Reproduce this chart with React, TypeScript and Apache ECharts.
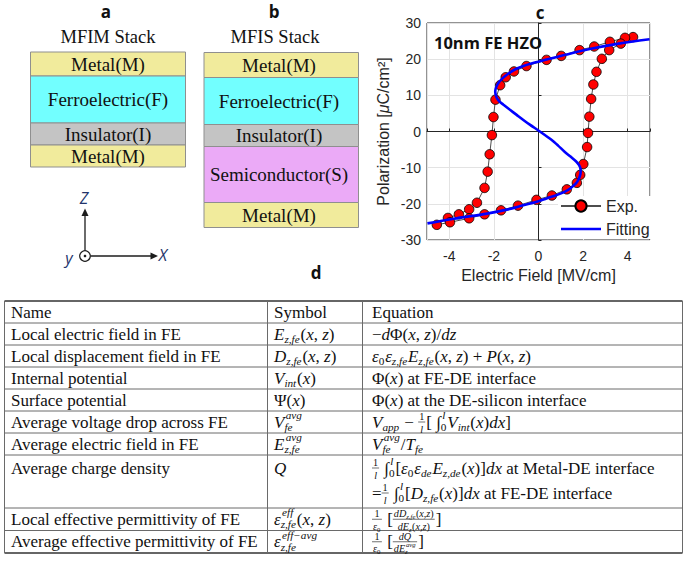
import React, { useEffect, useRef } from 'react';
import * as echarts from 'echarts';

const SANS = '"Liberation Sans", Arial, sans-serif';
const SERIF = '"Liberation Serif", "Times New Roman", serif';
const BOLD = '"Open Sans", Lato, sans-serif';
const INK = '#111111';
const AX = '#262626';

// ---------- Panel c data ----------
const expField = [4.24, 3.88, 3.2, 2.5, 1.84, 1.02, 0.36, -0.54, -1.1, -1.47, -1.72, -1.93, -2.02, -2.09, -2.19, -2.28, -2.42, -2.76, -3.11, -3.57, -4.06, -4.56,
  -3.97, -3.11, -2.42, -1.68, -0.92, -0.09, 0.6, 1.27, 1.72, 1.87, 2.01, 2.18, 2.22, 2.28, 2.36, 2.46, 2.6, 2.84, 3.17, 3.69];
const expPolarization = [26.1, 25.9, 24.8, 23.5, 22.5, 20.9, 19.8, 18.1, 16.6, 15.0, 12.8, 8.8, 4.0, -1.0, -6.3, -11.1, -15.6, -19.7, -21.5, -22.9, -23.9, -25.8,
  -25.1, -24.0, -22.9, -21.8, -20.5, -18.9, -17.7, -16.0, -14.2, -12.0, -9.0, -4.3, -0.4, 4.1, 9.0, 13.0, 16.5, 20.1, 22.5, 24.3];
const fitField = [-4.98, -3.8, -2.31, -1.42, -0.68, 0.0, 0.36, 0.8, 1.17, 1.45, 1.69, 1.8, 1.87, 1.89, 1.88, 1.82, 1.69, 1.45, 1.17, 0.88, 0.58, 0.06,
  -0.39, -0.68, -0.98, -1.28, -1.57, -1.75, -1.87, -1.92, -1.94, -1.9, -1.8, -1.65, -1.42, -1.1, -0.68, -0.2, 0.36, 1.2, 2.3, 3.6, 4.98];
const fitPolarization = [-25.4, -24.1, -22.7, -21.6, -20.4, -19.3, -18.5, -17.6, -16.7, -15.6, -14.3, -13.2, -12.0, -11.1, -10.2, -9.3, -8.3, -7.0, -5.6, -3.9, -2.3, 0.0,
  1.9, 3.2, 4.6, 6.0, 7.4, 8.3, 9.3, 10.2, 11.1, 12.2, 13.4, 14.5, 15.7, 17.0, 18.1, 19.0, 19.9, 21.2, 22.8, 24.3, 25.5];
const seriesNames = ['Exp.', 'Fitting'];

// ---------- Panels a / b ----------
const mfimLayers = ['Metal(M)', 'Ferroelectric(F)', 'Insulator(I)', 'Metal(M)'];
const mfisLayers = ['Metal(M)', 'Ferroelectric(F)', 'Insulator(I)', 'Semiconductor(S)', 'Metal(M)'];

// ---------- Panel d table ----------
type Piece = any[];
const rowNames = ['Name', 'Local electric field in FE', 'Local displacement field in FE', 'Internal potential', 'Surface potential',
  'Average voltage drop across FE', 'Average electric field in FE', 'Average charge density', 'Local effective permittivity of FE',
  'Average effective permittivity of FE'];
const oneOverL: Piece = ['frac', [['r', '1']], [['i', 'l']]];
const oneOverEps: Piece = ['frac', [['r', '1']], [['i', 'ε'], ['ss', '0']]];
const rowSymbols: Piece[][] = [
  [['r', 'Symbol']],
  [['i', 'E'], ['ss', 'z,fe'], ['r', '('], ['i', 'x'], ['r', ', '], ['i', 'z'], ['r', ')']],
  [['i', 'D'], ['ss', 'z,fe'], ['r', '('], ['i', 'x'], ['r', ', '], ['i', 'z'], ['r', ')']],
  [['i', 'V'], ['ss', 'int'], ['r', '('], ['i', 'x'], ['r', ')']],
  [['r', 'Ψ('], ['i', 'x'], ['r', ')']],
  [['i', 'V'], ['ss', 'fe', 'avg']],
  [['i', 'E'], ['ss', 'z,fe', 'avg']],
  [['i', 'Q']],
  [['i', 'ε'], ['ss', 'z,fe', 'eff'], ['r', '('], ['i', 'x'], ['r', ', '], ['i', 'z'], ['r', ')']],
  [['i', 'ε'], ['ss', 'z,fe', 'eff−avg']],
];
const rowEquations: Piece[][][] = [
  [[['r', 'Equation']]],
  [[['r', '−'], ['i', 'd'], ['r', 'Φ('], ['i', 'x'], ['r', ', '], ['i', 'z'], ['r', ')/'], ['i', 'dz']]],
  [[['i', 'ε'], ['ss', '0'], ['i', 'ε'], ['ss', 'z,fe'], ['i', 'E'], ['ss', 'z,fe'], ['r', '('], ['i', 'x'], ['r', ', '], ['i', 'z'], ['r', ') + '], ['i', 'P'], ['r', '('], ['i', 'x'], ['r', ', '], ['i', 'z'], ['r', ')']]],
  [[['r', 'Φ('], ['i', 'x'], ['r', ') at FE-DE interface']]],
  [[['r', 'Φ('], ['i', 'x'], ['r', ') at the DE-silicon interface']]],
  [[['i', 'V'], ['ss', 'app'], ['r', ' − '], oneOverL, ['r', '[ '], ['r', '∫'], ['ss', '0', 'l'], ['i', 'V'], ['ss', 'int'], ['r', '('], ['i', 'x'], ['r', ')'], ['i', 'dx'], ['r', ']']]],
  [[['i', 'V'], ['ss', 'fe', 'avg'], ['r', '/'], ['i', 'T'], ['ss', 'fe']]],
  [
    [oneOverL, ['r', ' ∫'], ['ss', '0', 'l'], ['r', '['], ['i', 'ε'], ['ss', '0'], ['i', 'ε'], ['ss', 'de'], ['i', 'E'], ['ss', 'z,de'], ['r', '('], ['i', 'x'], ['r', ')]'], ['i', 'dx'], ['r', ' at Metal-DE interface']],
    [['r', '='], oneOverL, ['r', ' ∫'], ['ss', '0', 'l'], ['r', '['], ['i', 'D'], ['ss', 'z,fe'], ['r', '('], ['i', 'x'], ['r', ')]'], ['i', 'dx'], ['r', ' at FE-DE interface']],
  ],
  [[oneOverEps, ['r', ' ['], ['frac', [['i', 'dD'], ['ss', 'z,fe'], ['r', '('], ['i', 'x'], ['r', ','], ['i', 'z'], ['r', ')']], [['i', 'dE'], ['ss', 'z'], ['r', '('], ['i', 'x'], ['r', ','], ['i', 'z'], ['r', ')']]], ['r', ']']]],
  [[oneOverEps, ['r', ' ['], ['frac', [['i', 'dQ']], [['i', 'dE'], ['ss', 'z', 'avg']]], ['r', ']']]],
];

let mctx: CanvasRenderingContext2D | null = null;
function measure(text: string, size: number, italic: boolean) {
  if (!mctx) mctx = document.createElement('canvas').getContext('2d');
  mctx!.font = `${italic ? 'italic ' : ''}${size}px ${SERIF}`;
  return mctx!.measureText(text).width;
}
function tx(x: number, y: number, text: string, size: number, italic: boolean, extra: any = {}) {
  return {
    type: 'text', x, y, silent: true,
    style: { text, fontSize: size, lineHeight: Math.max(6, Math.round(size * 0.85)), fontFamily: SERIF, fontStyle: italic ? 'italic' : 'normal', fill: INK, align: 'left', verticalAlign: 'middle', ...extra },
  };
}
function layout(x0: number, y: number, pieces: Piece[], size: number, out: any[]): number {
  let x = x0;
  const small = size * 0.66;
  for (const p of pieces) {
    const kind = p[0];
    if (kind === 'r' || kind === 'i') {
      const it = kind === 'i';
      out.push(tx(x, y, p[1], size, it));
      x += measure(p[1], size, it);
    } else if (kind === 'ss') {
      const sb = p[1];
      const sp = p[2];
      let w = 0;
      if (sb) {
        const it = !/^\d+$/.test(sb);
        out.push(tx(x, y + size * 0.3, sb, small, it));
        w = Math.max(w, measure(sb, small, it));
      }
      if (sp) {
        const it = !/^\d+$/.test(sp);
        const dx = sb ? size * 0.08 : 0;
        out.push(tx(x + dx, y - size * 0.4, sp, small, it));
        w = Math.max(w, measure(sp, small, it) + dx);
      }
      x += w + size * 0.05;
    } else if (kind === 'frac') {
      const fs = size * 0.6;
      const wn = layout(0, 0, p[1], fs, []);
      const wd = layout(0, 0, p[2], fs, []);
      const w = Math.max(wn, wd) + 2;
      layout(x + (w - wn) / 2, y - fs * 0.55, p[1], fs, out);
      layout(x + (w - wd) / 2, y + fs * 0.7, p[2], fs, out);
      out.push({ type: 'line', silent: true, shape: { x1: x, y1: y, x2: x + w, y2: y }, style: { stroke: INK, lineWidth: 0.6 } });
      x += w + 1;
    }
  }
  return x - x0;
}

function buildGraphics() {
  const g: any[] = [];
  const label = (x: number, y: number, text: string, size: number, font: string, extra: any = {}) => ({
    type: 'text', x, y, silent: true, z: 100,
    style: { text, fontSize: size, fontFamily: font, fill: INK, align: 'center', verticalAlign: 'middle', ...extra },
  });
  const layerColor = (name: string) =>
    name.startsWith('Metal') ? '#f1eb9c' : name.startsWith('Ferro') ? '#72ffff' : name.startsWith('Insul') ? '#c4c4c4' : '#ebaaf7';

  // panel letters
  g.push(label(106, 11, 'a', 17, BOLD, { fontWeight: 'bold' }));
  g.push(label(274, 11, 'b', 17, BOLD, { fontWeight: 'bold' }));
  g.push(label(540, 12, 'c', 17, BOLD, { fontWeight: 'bold' }));
  g.push(label(316, 272, 'd', 17, BOLD, { fontWeight: 'bold' }));

  g.push(label(108, 37, 'MFIM Stack', 18.5, SERIF));
  g.push(label(275, 37, 'MFIS Stack', 18.5, SERIF));

  const drawStack = (layers: string[], bounds: number[], x1: number, x2: number, textX: number) => {
    layers.forEach((name, i) => {
      g.push({ type: 'rect', silent: true, shape: { x: x1, y: bounds[i], width: x2 - x1, height: bounds[i + 1] - bounds[i] },
        style: { fill: layerColor(name), stroke: '#8f8f8f', lineWidth: 1 } });
      g.push(label(textX, (bounds[i] + bounds[i + 1]) / 2, name, 19, SERIF));
    });
  };
  drawStack(mfimLayers, [52, 76, 123, 145, 167], 30.5, 185.5, 108);
  drawStack(mfisLayers, [52.5, 77.5, 124.5, 146.5, 202.5, 227.5], 204, 358.5, 279);

  // coordinate system sketch
  const ax = '#1c1c1c';
  g.push({ type: 'line', silent: true, shape: { x1: 85, y1: 250.5, x2: 85, y2: 214 }, style: { stroke: ax, lineWidth: 1.3 } });
  g.push({ type: 'polygon', silent: true, shape: { points: [[85, 208.5], [81.5, 216], [88.5, 216]] }, style: { fill: ax } });
  g.push({ type: 'line', silent: true, shape: { x1: 90.5, y1: 256, x2: 152, y2: 256 }, style: { stroke: ax, lineWidth: 1.3 } });
  g.push({ type: 'polygon', silent: true, shape: { points: [[158, 256], [150.5, 252.5], [150.5, 259.5]] }, style: { fill: ax } });
  g.push({ type: 'circle', silent: true, shape: { cx: 85, cy: 256, r: 5.3 }, style: { fill: '#fff', stroke: ax, lineWidth: 1.2 } });
  g.push({ type: 'circle', silent: true, shape: { cx: 85, cy: 256, r: 1.3 }, style: { fill: ax } });
  const axisInk = '#23346b';
  g.push(label(84, 198, 'Z', 16, BOLD, { fontStyle: 'italic', fill: axisInk }));
  g.push(label(69, 258, 'y', 16, BOLD, { fontStyle: 'italic', fill: axisInk }));
  g.push(label(163, 255, 'X', 16, BOLD, { fontStyle: 'italic', fill: axisInk }));

  // panel c inner label
  g.push(label(434, 42, '10nm FE HZO', 16.5, BOLD, { fontWeight: 'bold', align: 'left' }));

  // table
  const colX = [4.5, 267.5, 362.5, 682.5];
  const rowY = [301, 323, 345, 367, 389, 411, 433, 455, 508, 530.5, 553];
  const line = (x1: number, y1: number, x2: number, y2: number, w: number, c: string) =>
    g.push({ type: 'line', silent: true, shape: { x1, y1, x2, y2 }, style: { stroke: c, lineWidth: w } });
  rowY.forEach((y, i) => {
    const outer = i === 0 || i === rowY.length - 1;
    line(colX[0], y, colX[3], y, outer ? 1.6 : 1, outer ? '#333' : '#6a6a6a');
  });
  colX.forEach((x) => line(x, rowY[0], x, rowY[rowY.length - 1], 1, '#6a6a6a'));
  const SIZE = 17;
  rowNames.forEach((name, i) => {
    const multi = rowEquations[i].length > 1;
    const yc = multi ? rowY[i] + 13 : (rowY[i] + rowY[i + 1]) / 2;
    g.push(tx(11, yc, name, SIZE, false));
    layout(274, yc, rowSymbols[i], SIZE, g);
    rowEquations[i].forEach((eq, k) => {
      layout(372, yc + k * 25, eq, SIZE, g);
    });
  });
  return g;
}

export default function App() {
  const ref = useRef<HTMLDivElement>(null);
  useEffect(() => {
    if (!ref.current) return;
    const chart = echarts.init(ref.current, null, { renderer: 'svg' });
    const expData = expField.map((e, i) => [e, expPolarization[i]]);
    const fitData = fitField.map((e, i) => [e, fitPolarization[i]]);
    chart.setOption({
      animation: false,
      backgroundColor: '#ffffff',
      grid: { left: 427, top: 23, width: 223, height: 217, show: true, borderColor: AX, borderWidth: 1, backgroundColor: 'transparent' },
      legend: {
        data: [{ name: seriesNames[0] }, { name: seriesNames[1], icon: 'path://M0,0L40,0L40,2.6L0,2.6Z' }],
        orient: 'vertical', left: 558, top: 196, itemWidth: 40, itemHeight: 14, itemGap: 7,
        padding: [2, 3, 2, 2], backgroundColor: '#ffffff', z: 50,
        textStyle: { fontSize: 16, color: AX, fontFamily: SANS },
      },
      xAxis: {
        type: 'value', min: -5, max: 5, splitNumber: 5,
        name: 'Electric Field [MV/cm]', nameLocation: 'middle', nameGap: 27,
        nameTextStyle: { fontSize: 16, color: AX, fontFamily: SANS },
        axisLine: { show: true, lineStyle: { color: AX } },
        axisTick: { inside: true, length: 3, lineStyle: { color: AX } },
        axisLabel: { fontSize: 14, color: AX, fontFamily: SANS, margin: 9, formatter: (v: number) => (Math.abs(v) === 5 ? '' : String(v)) },
        splitLine: { show: true, lineStyle: { color: '#e3e3e3', width: 1 } },
      },
      yAxis: {
        type: 'value', min: -30, max: 30, interval: 10,
        name: 'Polarization [{i|μ}C/cm²]', nameLocation: 'middle', nameGap: 36, nameRotate: 90,
        nameTextStyle: { fontSize: 16, color: AX, fontFamily: SANS, rich: { i: { fontSize: 16, color: AX, fontFamily: SANS, fontStyle: 'italic' } } },
        axisLine: { show: true, lineStyle: { color: AX } },
        axisTick: { inside: true, length: 3, lineStyle: { color: AX } },
        axisLabel: { fontSize: 14, color: AX, fontFamily: SANS, margin: 6 },
        splitLine: { show: true, lineStyle: { color: '#e3e3e3', width: 1 } },
      },
      series: [
        {
          name: seriesNames[0], type: 'line', data: expData, z: 3,
          symbol: 'circle', symbolSize: 9.5,
          lineStyle: { color: '#4d4d4d', width: 1 },
          itemStyle: { color: '#ff0000', borderColor: '#000000', borderWidth: 0.8 },
        },
        {
          name: seriesNames[1], type: 'line', data: fitData, z: 4, smooth: 0.3,
          showSymbol: false, symbol: 'none',
          lineStyle: { color: '#0000ff', width: 2.6 },
          itemStyle: { color: '#0000ff' },
        },
      ],
      graphic: { elements: buildGraphics() },
    });
    return () => chart.dispose();
  }, []);
  return <div ref={ref} style={{ position: 'absolute', left: 0, top: 0, width: 685, height: 564 }} />;
}
